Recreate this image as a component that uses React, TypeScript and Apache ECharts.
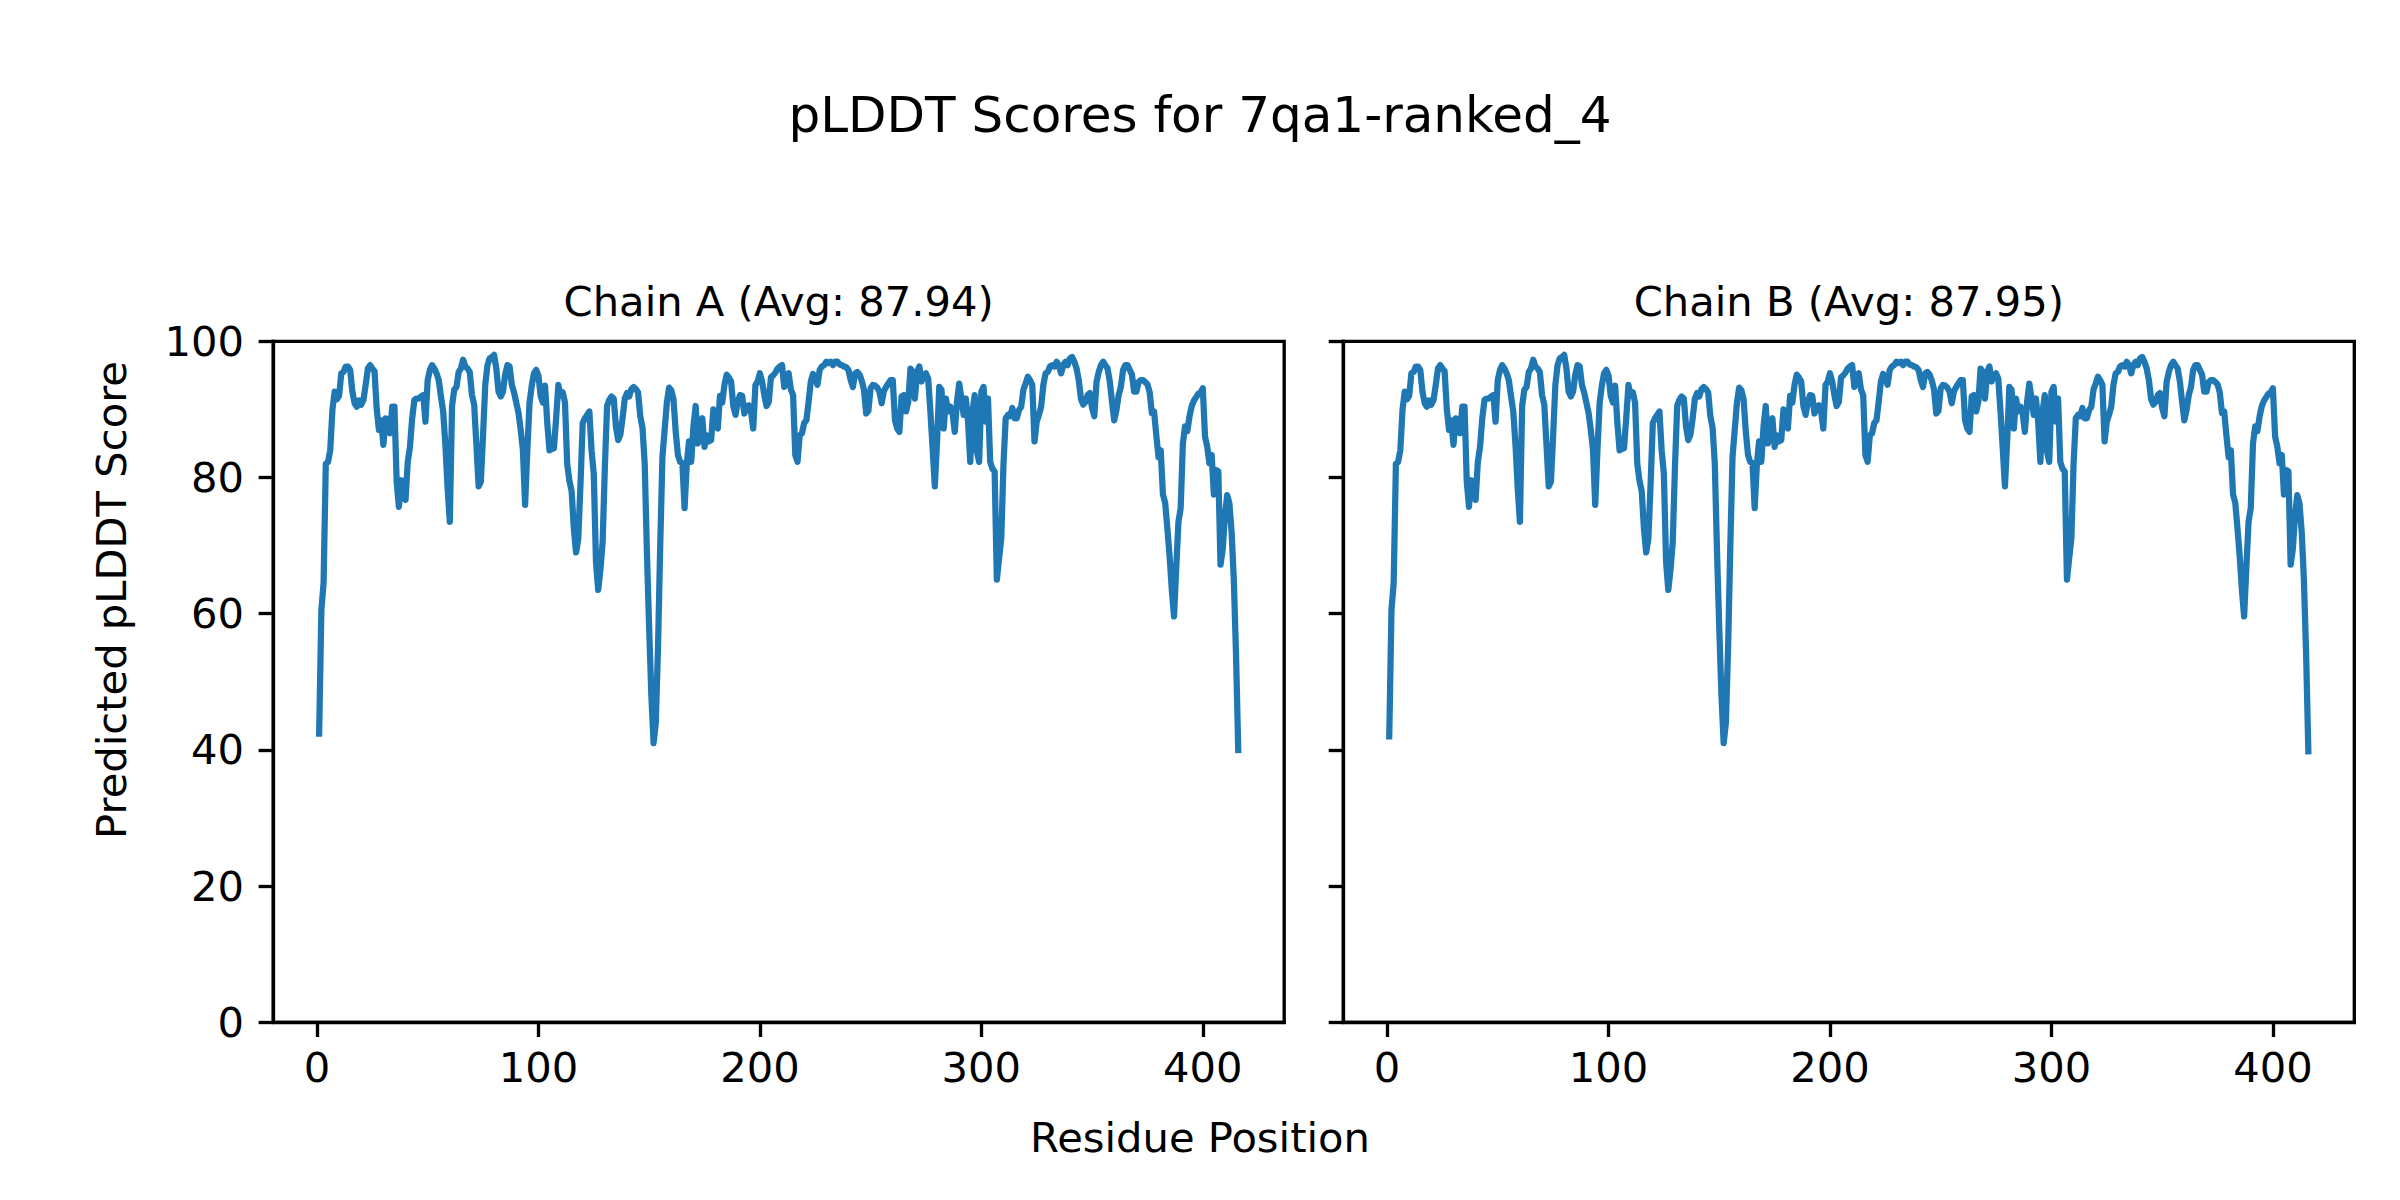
import React, { useEffect, useRef } from "react";
import * as echarts from "echarts";

const chartTitle = "pLDDT Scores for 7qa1-ranked_4";
const panelTitles = ["Chain A (Avg: 87.94)", "Chain B (Avg: 87.95)"];
const xAxisName = "Residue Position";
const yAxisName = "Predicted pLDDT Score";
const xTickValues = [0, 100, 200, 300, 400];
const yTickValues = [0, 20, 40, 60, 80, 100];

// pLDDT per residue (residues 1..416)
const chainAScores = [
  42.4, 60.5, 64.5, 82.0, 82.3, 84.0, 90.0, 92.6, 91.5, 92.0,
  95.3, 95.5, 96.3, 96.3, 95.8, 92.6, 90.9, 90.4, 91.3, 90.7,
  91.4, 93.6, 96.0, 96.5, 96.0, 95.6, 90.0, 87.0, 88.4, 84.8,
  88.7, 88.5, 86.5, 90.4, 90.4, 79.4, 75.7, 79.6, 79.4, 76.7,
  82.3, 84.5, 88.7, 91.4, 91.6, 91.6, 91.9, 92.1, 88.2, 94.3,
  95.8, 96.5, 96.0, 95.3, 94.3, 91.9, 89.7, 84.8, 78.4, 73.5,
  90.5, 92.9, 93.3, 95.5, 96.0, 97.3, 96.3, 96.0, 95.5, 92.1,
  90.7, 84.8, 78.7, 79.4, 86.2, 93.6, 96.5, 97.5, 97.7, 98.0,
  96.0, 92.6, 91.9, 92.6, 95.1, 96.5, 96.3, 93.6, 92.5, 91.0,
  89.5, 87.0, 84.0, 76.0, 84.0, 91.0, 93.5, 95.3, 95.8, 95.0,
  92.0, 91.0, 93.5, 88.0, 84.0, 84.2, 84.3, 88.7, 93.6, 92.0,
  92.5, 91.0, 82.0, 79.5, 78.0, 72.5, 69.0, 71.0, 79.0, 88.0,
  88.7, 89.2, 89.7, 84.0, 80.5, 67.6, 63.5, 66.5, 70.5, 81.5,
  90.5, 91.4, 91.9, 91.6, 87.5, 85.5, 86.3, 88.7, 91.6, 92.4,
  91.9, 93.0, 93.3, 93.0, 92.5, 89.0, 87.3, 82.0, 69.0, 58.0,
  48.0, 41.0, 44.0, 55.0, 70.0, 83.0, 87.0, 91.0, 93.2, 92.8,
  91.5, 86.7, 83.3, 82.3, 82.1, 75.5, 82.0, 85.3, 82.3, 87.5,
  90.5, 85.0, 88.2, 88.7, 84.5, 86.2, 85.3, 85.5, 90.0, 87.5,
  87.2, 92.0, 91.0, 93.6, 95.1, 94.7, 94.1, 90.5, 89.2, 91.1,
  92.1, 92.0, 89.4, 90.4, 90.6, 89.7, 87.2, 93.6, 94.1, 95.3,
  94.1, 92.1, 90.5, 91.1, 94.7, 95.0, 95.4, 96.0, 96.3, 96.5,
  93.3, 95.0, 95.3, 92.9, 92.1, 83.3, 82.3, 86.2, 86.5, 88.0,
  88.4, 91.1, 94.1, 95.2, 94.6, 93.6, 95.8, 96.3, 96.5, 97.0,
  96.8, 97.0, 96.5, 97.0, 97.0, 96.6, 96.5, 96.3, 96.2, 95.8,
  94.3, 93.3, 95.3, 95.5, 95.1, 94.2, 92.9, 89.4, 89.8, 93.1,
  93.6, 93.5, 93.2, 92.6, 90.9, 92.7, 93.3, 93.8, 94.3, 94.3,
  88.4, 87.2, 86.7, 91.9, 92.1, 89.7, 91.1, 96.0, 95.5, 91.6,
  95.5, 96.3, 94.1, 95.0, 95.3, 94.5, 89.7, 84.3, 78.7, 85.3,
  93.3, 92.9, 87.2, 91.6, 89.7, 90.4, 89.4, 86.7, 91.1, 93.8,
  91.6, 89.2, 91.6, 88.2, 82.3, 89.7, 92.1, 83.8, 82.3, 92.6,
  93.3, 88.2, 91.6, 82.3, 81.3, 80.9, 65.0, 68.1, 71.1, 82.0,
  88.7, 89.2, 89.0, 90.2, 88.7, 88.7, 89.9, 90.4, 92.9, 93.8,
  94.8, 94.3, 93.6, 85.3, 88.2, 89.2, 90.4, 93.6, 95.3, 95.5,
  96.3, 96.5, 96.3, 97.0, 96.5, 95.3, 96.5, 97.0, 96.5, 97.5,
  97.7, 97.0, 96.0, 94.3, 91.5, 90.7, 91.1, 92.1, 92.4, 90.2,
  89.0, 94.0, 95.5, 96.5, 97.0, 96.5, 96.0, 94.1, 91.1, 88.4,
  89.9, 92.1, 93.3, 95.8, 96.5, 96.5, 95.8, 95.1, 92.6, 92.6,
  94.0, 94.3, 94.3, 94.0, 93.7, 92.5, 89.5, 89.7, 86.2, 83.0,
  84.0, 77.5, 76.3, 72.5, 68.5, 63.5, 59.6, 66.7, 73.5, 75.5,
  85.0, 87.5, 86.8, 89.0, 90.5, 91.3, 91.8, 92.3, 92.5, 93.1,
  86.0, 84.5, 82.1, 83.3, 77.5, 81.1, 80.9, 67.2, 69.5, 74.5,
  77.4, 76.2, 72.0, 65.0, 54.0, 40.0,
];

// Chain B is visually identical to chain A (avg 87.95 vs 87.94)
const chainBScores = [...chainAScores];
chainBScores[0] = 42.0;
chainBScores[415] = 39.8;

const FONT = "DejaVu Sans";
const PT = 300 / 72;

export default function App() {
  const ref = useRef<HTMLDivElement>(null);

  useEffect(() => {
    if (!ref.current) return;
    const chart = echarts.init(ref.current, undefined, { renderer: "svg" });

    const toPairs = (arr: number[]) => arr.map((v, i) => [i + 1, v]);
    const n = chainAScores.length;
    const span = n - 1;
    const xMin = 1 - 0.05 * span;
    const xMax = n + 0.05 * span;

    const gridTop = 341.3;
    const gridHeight = 681.1;
    const gridW = 1011;
    const lefts = [273.2, 1343.3];

    const spineW = 0.8 * PT;
    const tickLen = 3.5 * PT;

    const grids = lefts.map((l) => ({
      left: l,
      top: gridTop,
      width: gridW,
      height: gridHeight,
      show: true,
      borderColor: "#000",
      borderWidth: spineW,
      backgroundColor: "transparent",
      containLabel: false,
    }));

    const axisLine = {
      show: true,
      onZero: false,
      lineStyle: { color: "#000", width: spineW, cap: "square" },
    };

    const xAxes = [0, 1].map((i) => ({
      type: "value",
      gridIndex: i,
      position: "bottom",
      min: xMin,
      max: xMax,
      axisLine,
      splitLine: { show: false },
      axisTick: {
        show: true,
        inside: false,
        length: tickLen,
        customValues: xTickValues,
        lineStyle: { color: "#000", width: spineW },
      },
      axisLabel: {
        show: true,
        customValues: xTickValues,
        color: "#000",
        fontFamily: FONT,
        fontSize: 10 * PT,
        lineHeight: 42,
        margin: 23.8,
      },
    }));

    const yAxes = [0, 1].map((i) => ({
      type: "value",
      gridIndex: i,
      position: "left",
      min: 0,
      max: 100,
      interval: 20,
      axisLine,
      splitLine: { show: false },
      axisTick: {
        show: true,
        inside: false,
        length: tickLen,
        lineStyle: { color: "#000", width: spineW },
      },
      axisLabel: {
        show: i === 0,
        color: "#000",
        fontFamily: FONT,
        fontSize: 10 * PT,
        margin: 2 * tickLen,
        formatter: (v: number) => (yTickValues.includes(v) ? String(v) : ""),
      },
    }));

    const lineCommon = {
      type: "line",
      showSymbol: false,
      symbol: "none",
      clip: true,
      lineStyle: { color: "#1f77b4", width: 1.5 * PT, join: "round", cap: "square" },
      emphasis: { disabled: true },
      silent: true,
    };

    const textStyle = (size: number) => ({
      fill: "#000",
      fontFamily: FONT,
      fontSize: size,
      align: "center",
      verticalAlign: "middle",
    });

    chart.setOption({
      animation: false,
      backgroundColor: "#fff",
      grid: grids,
      xAxis: xAxes,
      yAxis: yAxes,
      series: [
        { ...lineCommon, xAxisIndex: 0, yAxisIndex: 0, data: toPairs(chainAScores) },
        { ...lineCommon, xAxisIndex: 1, yAxisIndex: 1, data: toPairs(chainBScores) },
      ],
      graphic: [
        { type: "text", x: 1200, y: 115, style: { ...textStyle(12 * PT), text: chartTitle } },
        { type: "text", x: lefts[0] + gridW / 2, y: 301, style: { ...textStyle(10 * PT), text: panelTitles[0] } },
        { type: "text", x: lefts[1] + gridW / 2, y: 301, style: { ...textStyle(10 * PT), text: panelTitles[1] } },
        { type: "text", x: 1200, y: 1137, style: { ...textStyle(10 * PT), text: xAxisName } },
        {
          type: "text",
          x: 111.5,
          y: 600,
          rotation: Math.PI / 2,
          style: { ...textStyle(10 * PT), text: yAxisName },
        },
      ],
    });

    return () => chart.dispose();
  }, []);

  return (
    <div
      ref={ref}
      style={{ position: "absolute", left: 0, top: 0, width: 2400, height: 1200, background: "#fff" }}
    />
  );
}
